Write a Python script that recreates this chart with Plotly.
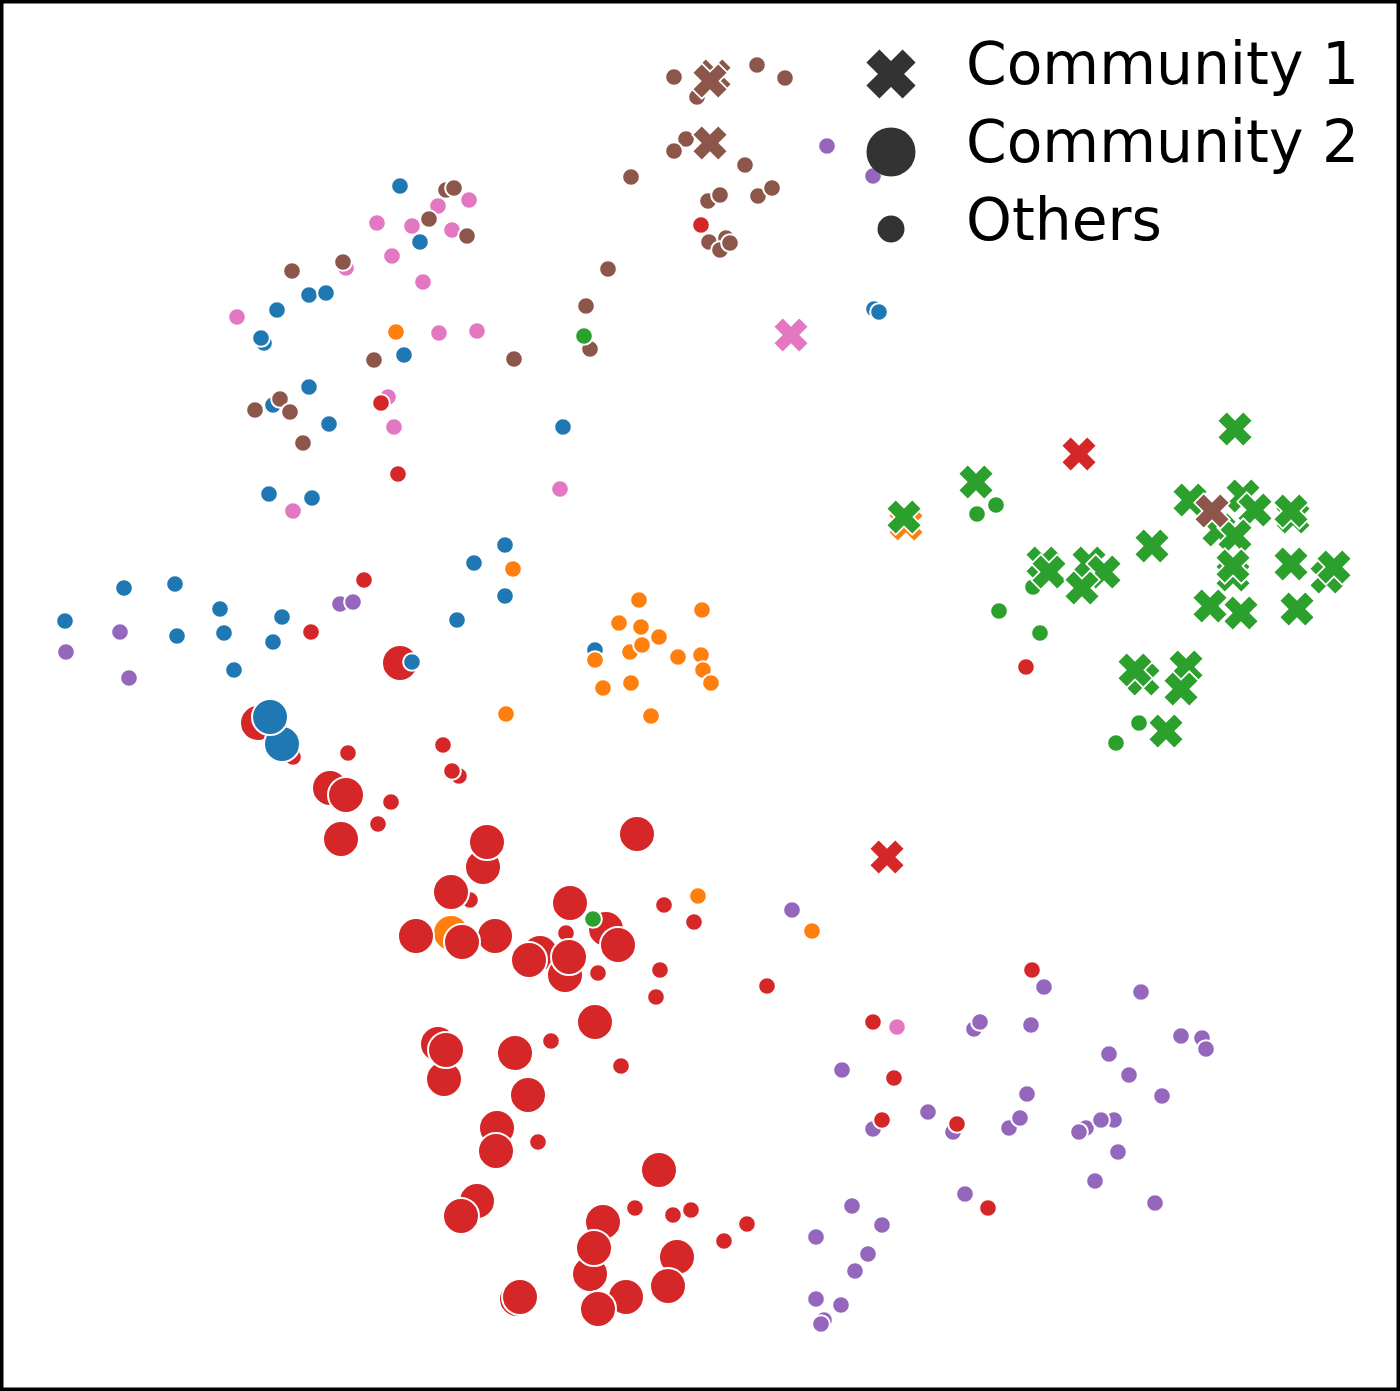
import plotly.graph_objects as go

# Point positions (the axes have no ticks or units)
blue_small = [(400,186),(420,242),(309,295),(326,293),(277,310),(264,343),(261,338),(404,355),(309,387),(273,405),
              (329,424),(563,427),(269,494),(312,498),(874,309),(879,312),(505,545),(474,563),(175,584),(124,588),
              (505,596),(220,609),(65,621),(282,617),(457,620),(177,636),(224,633),(273,642),(234,670),(595,650)]
pink_small = [(469,200),(438,206),(377,223),(412,226),(452,230),(392,256),(346,268),(423,282),(237,317),(439,333),
              (477,331),(388,397),(394,427),(293,511),(560,489),(897,1027)]
orange_small = [(396,332),(513,569),(639,600),(702,610),(619,623),(641,627),(659,637),(630,652),(642,645),(595,660),
                (678,657),(701,655),(703,670),(711,683),(631,683),(603,688),(506,714),(651,716),(698,896),(812,931)]
purple_small = [(827,146),(873,176),(340,604),(353,602),(120,632),(66,652),(129,678),(792,910),(1044,987),(1141,992),
                (974,1029),(980,1022),(1031,1025),(1181,1036),(1202,1038),(1206,1049),(1109,1054),(842,1070),(1129,1075),
                (1162,1096),(1027,1094),(928,1112),(873,1129),(953,1132),(1009,1128),(1020,1118),(1086,1128),(1079,1132),
                (1114,1120),(1101,1120),(1118,1152),(1095,1181),(965,1194),(1155,1203),(852,1206),(882,1225),(816,1237),
                (868,1254),(855,1271),(816,1299),(841,1305),(824,1320),(821,1324)]
green_small = [(977,514),(996,505),(1033,587),(999,611),(1040,633),(1139,723),(1116,743)]
red_small = [(701,225),(381,403),(398,474),(364,580),(311,632),(348,753),(293,757),(443,745),(459,776),(452,771),
             (391,802),(378,824),(470,900),(664,905),(694,922),(566,933),(660,970),(598,973),(656,997),(767,986),
             (1032,970),(873,1022),(551,1041),(621,1066),(894,1078),(882,1120),(957,1124),(538,1142),(988,1208),(635,1208),
             (691,1210),(673,1215),(747,1224),(724,1241),(1026,667)]
brown_small = [(674,77),(757,65),(785,78),(697,97),(686,139),(674,151),(745,165),(631,177),(708,201),(720,195),
               (758,196),(772,188),(709,242),(726,238),(720,250),(730,243),(608,269),(586,306),(590,349),(514,359),
               (374,360),(343,262),(292,271),(446,190),(454,188),(429,219),(467,236),(255,410),(280,399),(290,412),(303,443)]

orange_cross = [(906,524)]
red_cross = [(1079,454),(887,857)]
pink_cross = [(791,335)]
green_cross = [(904,517),(976,482),(1235,429),(1243,496),(1190,500),(1219,530),(1293,517),(1291,511),(1255,510),(1235,536),
               (1152,546),(1233,575),(1233,566),(1291,564),(1327,577),(1334,567),(1210,606),(1241,613),(1297,609),(1043,563),
               (1049,572),(1089,563),(1104,572),(1082,588),(1143,679),(1135,670),(1186,667),(1181,689),(1166,731)]
brown_cross = [(1212,511),(714,76),(710,81),(710,143)]

orange_big = [(451,933)]
red_big = [(400,663),(258,723),(330,788),(346,795),(341,839),(483,867),(487,842),(451,892),(637,834),(570,903),
           (606,929),(618,945),(416,936),(495,936),(462,942),(540,953),(529,960),(565,975),(569,957),(595,1022),
           (438,1044),(444,1079),(446,1050),(515,1053),(528,1095),(497,1128),(496,1151),(659,1170),(477,1201),(461,1216),
           (603,1222),(590,1274),(594,1248),(677,1257),(668,1286),(626,1297),(598,1309),(517,1299),(520,1297)]
blue_big = [(282,744),(270,717)]

# these sit on top of the big circles
blue_top = [(412,662)]
green_top = [(584,336),(593,919)]

legend_labels = ["Community 1", "Community 2", "Others"]
legend_y = [74, 152, 229]

BLUE = "#1f77b4"
ORANGE = "#ff7f0e"
GREEN = "#2ca02c"
RED = "#d62728"
PURPLE = "#9467bd"
BROWN = "#8c564b"
PINK = "#e377c2"

SMALL = 17.7
BIG = 36
CROSS = 29.2

# drawn in this order so overlaps come out right
layers = [
    (blue_small, BLUE, "circle", SMALL),
    (pink_small, PINK, "circle", SMALL),
    (orange_small, ORANGE, "circle", SMALL),
    (purple_small, PURPLE, "circle", SMALL),
    (green_small, GREEN, "circle", SMALL),
    (red_small, RED, "circle", SMALL),
    (brown_small, BROWN, "circle", SMALL),
    (orange_cross, ORANGE, "x", CROSS),
    (red_cross, RED, "x", CROSS),
    (pink_cross, PINK, "x", CROSS),
    (green_cross, GREEN, "x", CROSS),
    (brown_cross, BROWN, "x", CROSS),
    (orange_big, ORANGE, "circle", BIG),
    (red_big, RED, "circle", BIG),
    (blue_big, BLUE, "circle", BIG),
    (blue_top, BLUE, "circle", SMALL),
    (green_top, GREEN, "circle", SMALL),
]

fig = go.Figure()

for points, color, symbol, size in layers:
    if symbol == "circle":
        fig.add_trace(go.Scatter(
            x=[p[0] for p in points],
            y=[p[1] for p in points],
            mode="markers",
            marker=dict(color=color, symbol=symbol, size=size, line=dict(color="white", width=2)),
            showlegend=False,
        ))
    else:
        # plotly centres the stroke, which would thin the arms of the x,
        # so each cross is a white halo with a clean fill on top of it
        for px, py in points:
            fig.add_trace(go.Scatter(
                x=[px], y=[py], mode="markers",
                marker=dict(color="white", symbol=symbol, size=size, line=dict(color="white", width=3.5)),
                showlegend=False,
            ))
            fig.add_trace(go.Scatter(
                x=[px], y=[py], mode="markers",
                marker=dict(color=color, symbol=symbol, size=size, line=dict(width=0)),
                showlegend=False,
            ))

# legend markers are too big for a plotly legend, so it is built by hand
fig.add_trace(go.Scatter(
    x=[891, 891, 891],
    y=legend_y,
    mode="markers",
    marker=dict(color="#333333", opacity=1, symbol=["x", "circle", "circle"], size=[41, 47, 25],
                line=dict(color="#333333", width=2)),
    showlegend=False,
))
for label, y in zip(legend_labels, [64, 142, 220]):
    fig.add_annotation(x=964, y=y, text=label, showarrow=False, xanchor="left", yanchor="middle",
                       font=dict(family="DejaVu Sans", size=58.3, color="black"))

fig.update_xaxes(range=[0, 1400], visible=False)
fig.update_yaxes(range=[1391, 0], visible=False)

# black frame round the whole plot
fig.add_shape(type="rect", xref="paper", yref="paper", x0=0, y0=0, x1=1, y1=1,
              line=dict(color="black", width=7), layer="above")

fig.update_layout(
    width=1400,
    height=1391,
    margin=dict(l=0, r=0, t=0, b=0),
    paper_bgcolor="white",
    plot_bgcolor="white",
    showlegend=False,
)

# page margin would push the figure off the window
fig.write_html("out.html", config=dict(displayModeBar=False),
               post_script="document.body.style.margin='0';document.body.style.overflow='hidden';")
